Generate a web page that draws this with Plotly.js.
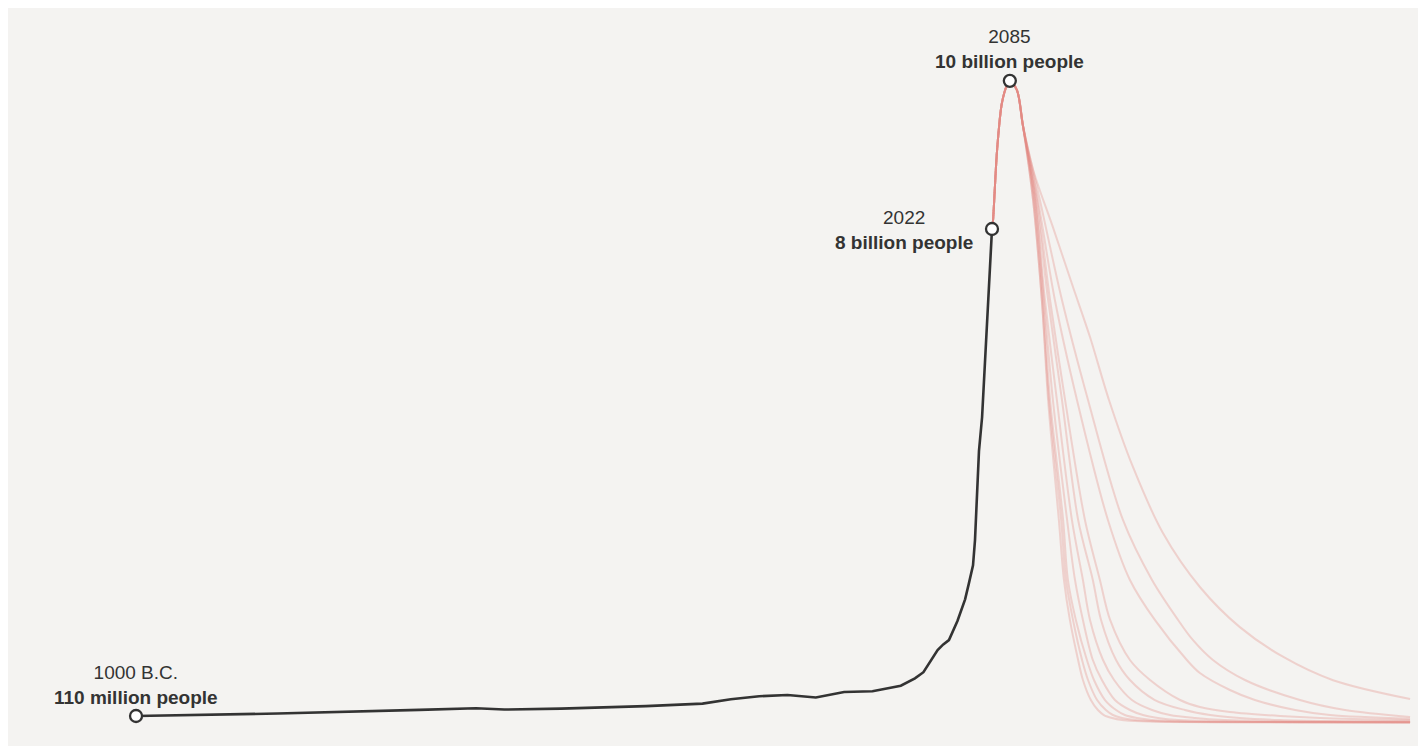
<!DOCTYPE html>
<html>
<head>
<meta charset="utf-8">
<script src="https://cdn.plot.ly/plotly-3.0.1.min.js"></script>
<style>
  html, body { margin: 0; padding: 0; background: #ffffff; }
  #chart { width: 1418px; height: 746px; }
</style>
</head>
<body>
<div id="chart"></div>
<script>
// Historical world population (billions)
const histYears = [-1000, -500, 0, 200, 300, 500, 800, 1000, 1100, 1200, 1300, 1400, 1500, 1600, 1700, 1750, 1780, 1800, 1830, 1850, 1870, 1900, 1927, 1940, 1955, 1962, 1969, 1976, 1987, 2000, 2010, 2022];
const histPop   = [0.11, 0.15, 0.21, 0.235, 0.215, 0.23, 0.27, 0.31, 0.38, 0.43, 0.45, 0.41, 0.50, 0.51, 0.60, 0.72, 0.82, 0.97, 1.18, 1.27, 1.34, 1.65, 2.0, 2.25, 2.55, 2.96, 3.6, 4.4, 4.95, 6.04, 6.93, 8.0];

// Shared projection to the peak
const projYearsCommon = [2022, 2025, 2040, 2057, 2075, 2085, 2110, 2131];
const projPopCommon   = [8.0, 8.1, 9.28, 10.04, 10.33, 10.4, 10.25, 9.68];

// Decline scenarios after 2131
const s1Years = [2167, 2198, 2220, 2258, 2276, 2297, 2326, 2343, 2371, 2396, 2417, 2446, 2481, 2527, 2633, 3000, 3498];
const s1Pop   = [8.47, 6.85, 5.23, 3.29, 2.314, 1.666, 1.017, 0.693, 0.369, 0.207, 0.126, 0.078, 0.045, 0.029, 0.013, 0.008, 0.006];
const s2Years = [2167, 2198, 2223, 2266, 2283, 2308, 2340, 2361, 2393, 2424, 2449, 2481, 2527, 2580, 2721, 3100, 3498];
const s2Pop   = [8.47, 6.85, 5.23, 3.29, 2.314, 1.666, 1.017, 0.693, 0.369, 0.207, 0.126, 0.078, 0.045, 0.029, 0.013, 0.008, 0.006];
const s3Years = [2170, 2202, 2227, 2273, 2290, 2318, 2357, 2382, 2421, 2460, 2491, 2534, 2587, 2650, 2827, 3498];
const s3Pop   = [8.47, 6.85, 5.23, 3.29, 2.314, 1.666, 1.017, 0.693, 0.369, 0.207, 0.126, 0.078, 0.045, 0.029, 0.013, 0.008];
const s4Years = [2174, 2205, 2237, 2287, 2315, 2343, 2378, 2410, 2456, 2509, 2555, 2608, 2679, 2968, 3498];
const s4Pop   = [8.47, 6.85, 5.23, 3.29, 2.314, 1.666, 1.017, 0.693, 0.369, 0.207, 0.126, 0.078, 0.045, 0.013, 0.01];
const s5Years = [2174, 2209, 2251, 2304, 2343, 2368, 2414, 2453, 2516, 2587, 2650, 2739, 2844, 2968, 3498];
const s5Pop   = [8.47, 6.85, 5.23, 3.29, 2.314, 1.666, 1.017, 0.693, 0.369, 0.207, 0.126, 0.078, 0.045, 0.029, 0.018];
const s6Years = [2177, 2220, 2269, 2326, 2378, 2407, 2460, 2509, 2597, 2703, 2792, 2897, 3039, 3215, 3498];
const s6Pop   = [8.47, 6.85, 5.23, 3.29, 2.314, 1.666, 1.017, 0.693, 0.369, 0.207, 0.126, 0.078, 0.045, 0.029, 0.022];
const s7Years = [2181, 2227, 2280, 2350, 2403, 2439, 2509, 2580, 2686, 2756, 2862, 3039, 3180, 3498];
const s7Pop   = [8.47, 6.85, 5.23, 3.29, 2.314, 1.666, 1.017, 0.693, 0.369, 0.256, 0.175, 0.110, 0.078, 0.045];
const s8Years = [2184, 2244, 2322, 2431, 2509, 2597, 2710, 2756, 2862, 2950, 3092, 3215, 3498];
const s8Pop   = [8.47, 6.85, 5.23, 3.29, 2.314, 1.666, 1.017, 0.806, 0.531, 0.369, 0.207, 0.126, 0.065];
const s9Years = [2191, 2269, 2361, 2484, 2587, 2679, 2731, 2802, 2915, 3109, 3268, 3498];
const s9Pop   = [8.47, 6.85, 5.23, 3.29, 2.314, 1.666, 1.342, 1.017, 0.693, 0.369, 0.207, 0.094];
const s10Years = [2167, 2237, 2308, 2368, 2435, 2520, 2626, 2756, 2897, 3049, 3226, 3498];
const s10Pop   = [8.96, 8.03, 7.06, 6.25, 5.23, 4.14, 3.07, 2.20, 1.55, 1.07, 0.69, 0.385];

// Labelled points
const markYears = [-1000, 2022, 2085];
const markPop   = [0.11, 8.0, 10.4];
const markYearLabels = ['1000 B.C.', '2022', '2085'];
const markPopLabels  = ['110 million people', '8 billion people', '10 billion people'];

const scenarios = [
  [s1Years, s1Pop], [s2Years, s2Pop], [s3Years, s3Pop], [s4Years, s4Pop], [s5Years, s5Pop],
  [s6Years, s6Pop], [s7Years, s7Pop], [s8Years, s8Pop], [s9Years, s9Pop], [s10Years, s10Pop]
];

const traces = [];
scenarios.forEach(function (s) {
  traces.push({
    x: projYearsCommon.concat(s[0]),
    y: projPopCommon.concat(s[1]),
    mode: 'lines',
    type: 'scatter',
    line: { color: 'rgba(226,136,130,0.32)', width: 2, shape: 'spline', smoothing: 0.9 },
    hoverinfo: 'skip',
    showlegend: false
  });
});

traces.push({
  x: histYears, y: histPop, mode: 'lines', type: 'scatter',
  line: { color: '#333333', width: 2.6 },
  hoverinfo: 'skip', showlegend: false
});

traces.push({
  x: markYears, y: markPop, mode: 'markers', type: 'scatter',
  marker: { size: 12, color: '#ffffff', line: { color: '#333333', width: 2.3 } },
  hoverinfo: 'skip', showlegend: false, cliponaxis: false
});

const font = { family: 'Liberation Sans, Arial, sans-serif', size: 19, color: '#333333' };
function label(i) {
  return markYearLabels[i] + '<br><b>' + markPopLabels[i] + '</b>';
}

const annotations = [
  { x: markYears[0], y: markPop[0], xref: 'x', yref: 'y', text: label(0), showarrow: false,
    xanchor: 'center', yanchor: 'bottom', yshift: 6, align: 'center', font: font },
  { x: markYears[1], y: markPop[1], xref: 'x', yref: 'y', text: label(1), showarrow: false,
    xanchor: 'right', yanchor: 'middle', xshift: -17, yshift: -1, align: 'center', font: font },
  { x: markYears[2], y: markPop[2], xref: 'x', yref: 'y', text: label(2), showarrow: false,
    xanchor: 'center', yanchor: 'bottom', yshift: 7, align: 'center', font: font }
];

const layout = {
  width: 1418, height: 746,
  margin: { l: 8, r: 0, t: 8, b: 0, pad: 0 },
  paper_bgcolor: '#ffffff',
  plot_bgcolor: '#f4f3f1',
  xaxis: { range: [-1452, 3526], visible: false, fixedrange: true },
  yaxis: { range: [-0.376, 11.58], visible: false, fixedrange: true },
  annotations: annotations,
  font: font
};

Plotly.newPlot('chart', traces, layout, { displayModeBar: false, staticPlot: true });
</script>
</body>
</html>
